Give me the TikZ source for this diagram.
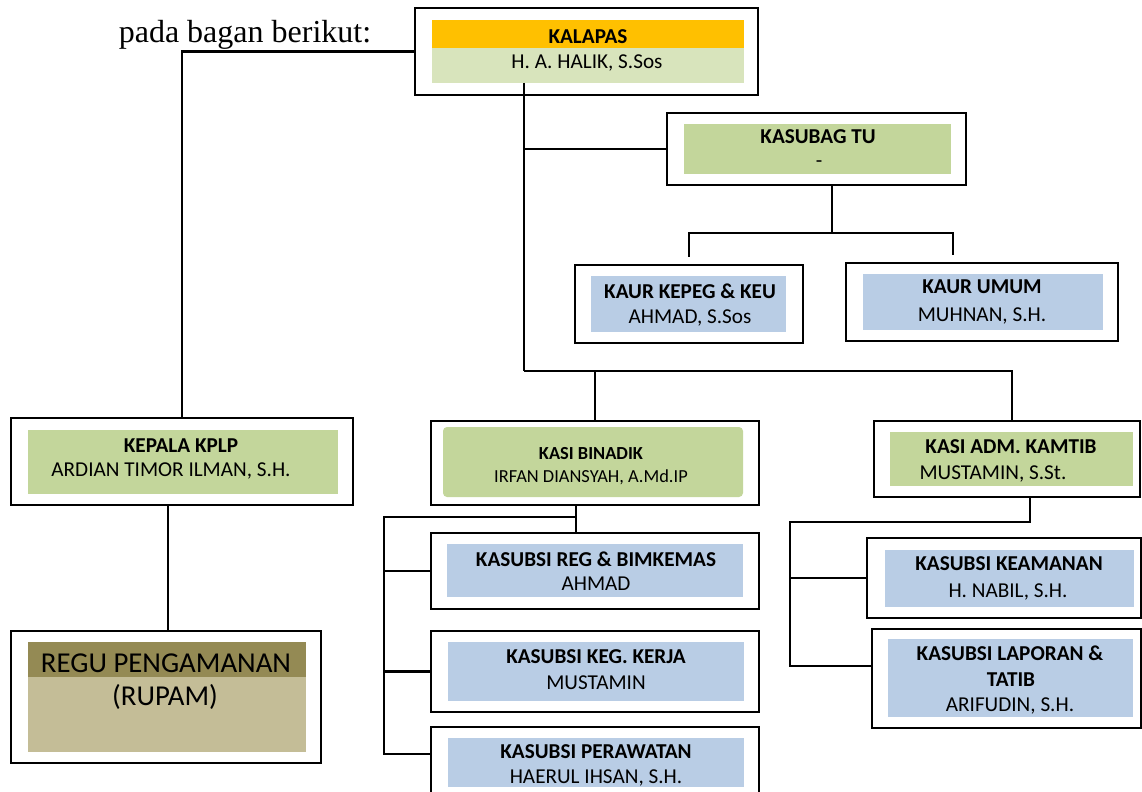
\documentclass[tikz,border=0pt]{standalone}
\usepackage{fontspec}
\setmainfont{Carlito}
\newfontfamily\serifface{Liberation Serif}
\usetikzlibrary{fit}

\definecolor{kaOrange}{HTML}{FFC000}
\definecolor{kaPale}{HTML}{D8E4BC}
\definecolor{kaGreen}{HTML}{C3D69B}
\definecolor{kaBlue}{HTML}{B9CDE5}
\definecolor{kaOlive}{HTML}{948A54}
\definecolor{kaKhaki}{HTML}{C4BD97}

\tikzset{
  orgbox/.style={draw, line width=1.3pt, inner sep=0pt},
  conn/.style={line width=1.1pt},
  ttl/.style={font=\fontsize{10.6}{12}\selectfont\bfseries, inner sep=0pt},
  nm/.style={font=\fontsize{10.6}{12}\selectfont, inner sep=0pt},
  ttlsmall/.style={font=\fontsize{9.2}{11}\selectfont\bfseries, inner sep=0pt},
  nmsmall/.style={font=\fontsize{9.2}{11}\selectfont, inner sep=0pt},
}

\begin{document}
\begin{tikzpicture}[x=0.5pt, y=-0.5pt]

\useasboundingbox (0,0) rectangle (1142,792);
\clip (0,0) rectangle (1142,792);

% --- caption text ---
\node[font=\serifface\fontsize{16}{18}\selectfont, anchor=base, inner sep=0pt] (caption) at (245,43) {pada bagan berikut:};

% --- FRAMES ---
\node[orgbox, fit={(415,8) (758,95)}] (kalapas) {};
\node[orgbox, fit={(667,113) (966,185)}] (kasubag) {};
\node[orgbox, fit={(575,265) (803,343)}] (kepeg) {};
\node[orgbox, fit={(846,263) (1118,341)}] (umum) {};
\node[orgbox, fit={(11,418) (353,505)}] (kplp) {};
\node[orgbox, fit={(11,631) (321,763)}] (rupam) {};
\node[orgbox, fit={(431,421) (759,505)}] (binadik) {};
\node[orgbox, fit={(874,421) (1140,497)}] (kamtib) {};
\node[orgbox, fit={(431,533) (759,609)}] (reg) {};
\node[orgbox, fit={(431,631) (759,712)}] (keg) {};
\node[orgbox, fit={(431,727) (759,820)}] (perawatan) {};
\node[orgbox, fit={(867,538) (1141,618)}] (keamanan) {};
\node[orgbox, fit={(872,629) (1141,728)}] (laporan) {};

% --- COLOURED BARS ---
\fill[kaOrange] (432,20) rectangle (744,48);
\fill[kaPale] (432,48) rectangle (744,83);
\fill[kaGreen] (684,124) rectangle (951,174);
\fill[kaBlue] (591,276) rectangle (786,332);
\fill[kaBlue] (863,274) rectangle (1103,330);
\fill[kaGreen] (28,430) rectangle (338,494);
\fill[kaOlive] (28,642) rectangle (306,677);
\fill[kaKhaki] (28,677) rectangle (306,752);
\fill[kaGreen, rounded corners=2pt] (443,427) rectangle (743,497);
\fill[kaGreen] (890,432) rectangle (1133,486);
\fill[kaBlue] (447,544) rectangle (743,597);
\fill[kaBlue] (448,642) rectangle (744,701);
\fill[kaBlue] (448,738) rectangle (744,787);
\fill[kaBlue] (885,550) rectangle (1134,607);
\fill[kaBlue] (888,639) rectangle (1133,717);

% --- TEXTS ---
\node[ttl] (kalapas-t) at (588,37) {KALAPAS};
\node[nm] (kalapas-n) at (587,63) {H. A. HALIK, S.Sos};
\node[ttl] (kasubag-t) at (818,137) {KASUBAG TU};
\node[nm] (kasubag-n) at (819,164) {-};
\node[ttl] (kepeg-t) at (690,291) {KAUR KEPEG \& KEU};
\node[nm] (kepeg-n) at (690,318) {AHMAD, S.Sos};
\node[ttl] (umum-t) at (982,287) {KAUR UMUM};
\node[nm] (umum-n) at (982,316) {MUHNAN, S.H.};
\node[ttl] (kplp-t) at (181,446) {KEPALA KPLP};
\node[nm] (kplp-n) at (171,471) {ARDIAN TIMOR ILMAN, S.H.};
\node[font=\fontsize{14.4}{16}\selectfont, inner sep=0pt] (rupam-t) at (166,663) {REGU PENGAMANAN};
\node[font=\fontsize{14.4}{16}\selectfont, inner sep=0pt] (rupam-n) at (165,697) {(RUPAM)};
\node[ttlsmall] (binadik-t) at (591,454) {KASI BINADIK};
\node[nmsmall] (binadik-n) at (591,477) {IRFAN DIANSYAH, A.Md.IP};
\node[ttl] (kamtib-t) at (1011,447) {KASI ADM. KAMTIB};
\node[nm] (kamtib-n) at (993,474) {MUSTAMIN, S.St.};
\node[ttl] (reg-t) at (596,559) {KASUBSI REG \& BIMKEMAS};
\node[nm] (reg-n) at (596,584) {AHMAD};
\node[ttl] (keg-t) at (596,657) {KASUBSI KEG. KERJA};
\node[nm] (keg-n) at (596,683) {MUSTAMIN};
\node[ttl] (perawatan-t) at (596,752) {KASUBSI PERAWATAN};
\node[nm] (perawatan-n) at (596,778) {HAERUL IHSAN, S.H.};
\node[ttl] (keamanan-t) at (1009,564) {KASUBSI KEAMANAN};
\node[nm] (keamanan-n) at (1008,592) {H. NABIL, S.H.};
\node[ttl] (laporan-t) at (1010,653) {KASUBSI LAPORAN \&};
\node[ttl] (laporan-t2) at (1011,680) {TATIB};
\node[nm] (laporan-n) at (1010,706) {ARIFUDIN, S.H.};

% --- CONNECTORS ---
\coordinate (trunk) at (524,83);
\coordinate (bus) at (524,371);
\coordinate (tubus) at (832,233);

\draw[conn] (kalapas.west) -| (kplp.north);
\draw[conn] (kplp.south -| 168,0) -- (rupam.north -| 168,0);
\draw[conn] (trunk) -- (bus);
\draw[conn] (trunk |- kasubag.west) -- (kasubag.west);
\draw[conn] (bus) -| (binadik.north);
\draw[conn] (bus) -| (kamtib.north -| 1012,0);

\draw[conn] (kasubag.south -| tubus) -- (tubus);
\draw[conn, shorten <=3.5pt, shorten >=3.5pt] (kepeg.north) |- (tubus) -| (umum.north -| 953,0);

% binadik branch
\draw[conn] (binadik.south -| 576,0) |- (384,517) -- (384,754) -- (perawatan.west |- 0,754);
\draw[conn] (576,517) -- (reg.north -| 576,0);
\draw[conn] (reg.west -| 384,0) -- (reg.west);
\draw[conn] (keg.west -| 384,0) -- (keg.west);

% kamtib branch
\draw[conn] (kamtib.south -| 1030,0) |- (790,522) -- (790,667);
\draw[conn] (keamanan.west -| 790,0) -- (keamanan.west);
\draw[conn] (790,666) -- (laporan.west |- 0,666);

\end{tikzpicture}
\end{document}
